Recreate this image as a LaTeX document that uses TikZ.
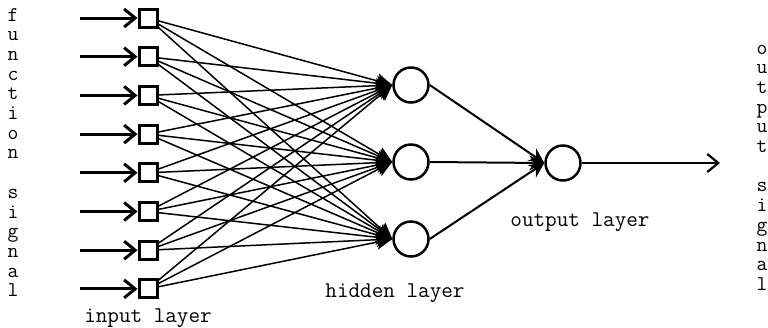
\documentclass[tikz,border=0pt]{standalone}
\usetikzlibrary{arrows.meta}
\begin{document}
\begin{tikzpicture}[x=1pt,y=-1pt,
  lbl/.style={font=\ttfamily\fontsize{22.5}{22.5}\selectfont, inner sep=0pt, anchor=base},
  column/.style={font=\ttfamily\fontsize{21}{19.7}\selectfont, inner sep=0pt, align=center, anchor=base},
  inbox/.style={draw, line width=3pt, minimum size=18pt, inner sep=0pt},
  neuron/.style={draw, circle, line width=2.5pt, minimum size=35pt, inner sep=0pt},
  feed/.style={line width=3pt, -{Straight Barb[length=11pt,width=18pt]}},
  emit/.style={line width=2.2pt, -{Straight Barb[length=11pt,width=18pt]}},
  weight/.style={line width=1.5pt, -{Stealth[length=16pt,width=15pt,inset=4pt]}},
  relay/.style={line width=2pt, -{Stealth[length=15pt,width=15pt,inset=5pt]}}
]
\useasboundingbox (0,0) rectangle (768,327);

% vertical captions, one letter per line (base anchor sits on the last line)
\node[column] (fsig) at (13,296.8)
  {f\\u\\n\\c\\t\\i\\o\\n\\[19.7pt]s\\i\\g\\n\\a\\l};
\node[column] (osig) at (762,290.4)
  {o\\u\\t\\p\\u\\t\\[19.7pt]s\\i\\g\\n\\a\\l};

% input layer
\foreach \k in {0,...,7} {
  \node[inbox] (i\k) at (148,18+38.7*\k) {};
  \coordinate (s\k) at (80,18+38.7*\k);
}

% hidden layer
\node[neuron] (h0) at (411,85) {};
\node[neuron] (h1) at (411,162) {};
\node[neuron] (h2) at (411,239) {};

% output neuron
\node[neuron] (o) at (563,163) {};
\coordinate (out) at (720,163);

% signals entering the input layer
\foreach \k in {0,...,7}
  \draw[feed] (s\k) -- (i\k);

% input to hidden weights
\foreach \k in {0,...,7}
  \foreach \j in {0,1,2}
    \draw[weight] (i\k) -- (h\j.west);

% hidden to output
\foreach \j in {0,1,2}
  \draw[relay] (h\j.east) -- (o.west);

\draw[emit] (o) -- (out);

% layer labels
\node[lbl] (li) at (148,322) {input layer};
\node[lbl] (lh) at (395,297) {hidden layer};
\node[lbl] (lo) at (580,226) {output layer};
\end{tikzpicture}
\end{document}
